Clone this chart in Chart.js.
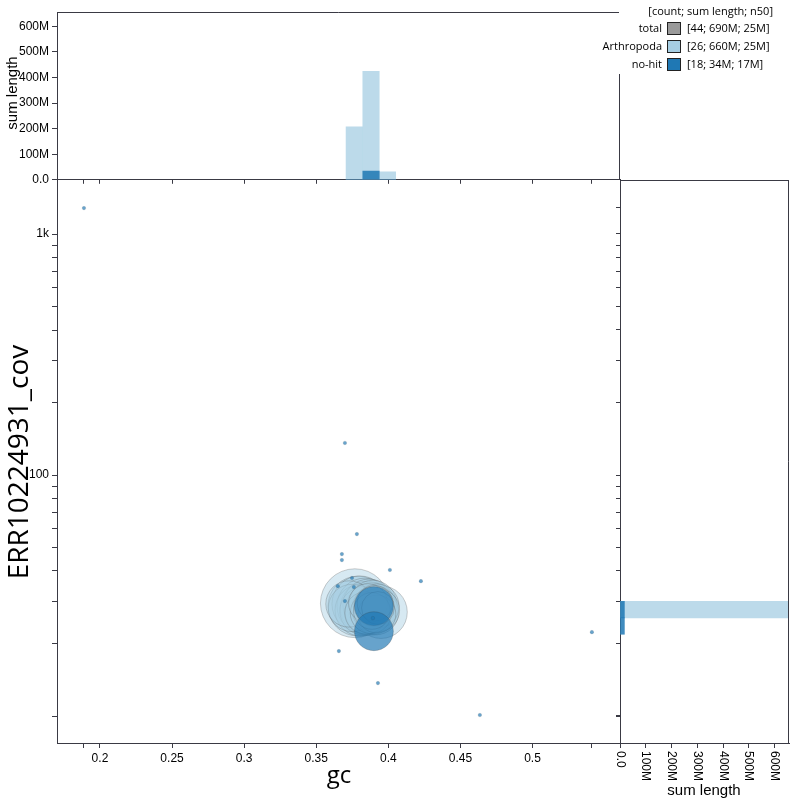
<!DOCTYPE html>
<html>
<head>
<meta charset="utf-8">
<script src="https://cdn.jsdelivr.net/npm/chart.js@4.4.1/dist/chart.umd.min.js"></script>
<style>
  html, body { margin: 0; padding: 0; background: #fff; }
  #wrap { position: relative; width: 800px; height: 800px; overflow: hidden; background: #fff; }
  canvas { position: absolute; }
  .lbl { position: absolute; white-space: nowrap; color: #000; transform: translate(-50%, -50%); }
  .rot { transform: translate(-50%, -50%) rotate(-90deg); }
  .big { font: 24px "Open Sans", sans-serif; }
  .ytitle { font: 28px "Open Sans", sans-serif; }
  .small { font: 15px "Liberation Sans", Arial, sans-serif; }
  #legend { position: absolute; left: 619px; top: 0; width: 181px; height: 74px; background: #fff;
            font: 11px "Open Sans", sans-serif; color: #000; }
  #legend div { position: absolute; white-space: nowrap; line-height: 14px; }
  #legend .sw { width: 14px; height: 13px; border: 1.5px solid #222; box-sizing: border-box; }
</style>
</head>
<body>
<div id="wrap">
  <canvas id="topHist" width="630" height="190" style="left:0px;top:0px"></canvas>
  <canvas id="blobPlot" width="630" height="630" style="left:0px;top:170px"></canvas>
  <canvas id="sideHist" width="190" height="630" style="left:610px;top:170px"></canvas>
  <div id="legend"></div>
  <div class="lbl rot ytitle" style="left:17px;top:462px">ERR10224931_cov</div>
  <div class="lbl big" style="left:339px;top:773px">gc</div>
  <div class="lbl rot small" style="left:11px;top:93px">sum length</div>
  <div class="lbl small" style="left:704px;top:789px">sum length</div>
</div>
<script>
// axes
const gcTicks = [0.2, 0.25, 0.3, 0.35, 0.4, 0.45, 0.5];
const gcExtent = [0.1889, 0.5412];
const gcRange = [0.1702, 0.5607];
const covTicks = [10, 20, 30, 40, 50, 60, 70, 80, 90, 100, 200, 300, 400, 500, 600, 700, 800, 900, 1000];
const covExtent = [10.1, 1283];
const covRange = [7.73, 1675];
const covLabels = { 100: '100', 1000: '1k' };
const lengthTicks = [0, 100e6, 200e6, 300e6, 400e6, 500e6, 600e6];
const lengthMax = 656e6;

// gc histogram (bin centres, sum length)
const gcBinCentres = [0.3764, 0.3880, 0.3994];
const gcArthropoda = [207e6, 424e6, 31e6];
const gcNoHit = [0, 34e6, 0];

// coverage histogram
const covBinCentres = [27.65, 23.63];
const covArthropoda = [655e6, 0];
const covNoHit = [17e6, 17e6];

// contigs: gc, coverage, length (Mb)
const arthGc = [0.3768, 0.3789, 0.3803, 0.3838, 0.3852, 0.3949, 0.3810, 0.3865, 0.3872, 0.3886, 0.3831, 0.3748, 0.3893,
                0.3727, 0.3907, 0.3914, 0.3921, 0.3928, 0.3845, 0.3879, 0.3900, 0.3859, 0.3921, 0.3886, 0.3907, 0.3928];
const arthCov = [29.4, 28.6, 29.2, 28.6, 28.1, 27.0, 27.5, 28.9, 27.5, 28.3, 27.3, 28.1, 29.2,
                 29.2, 27.8, 27.0, 28.6, 27.5, 26.8, 26.8, 28.6, 29.4, 26.5, 27.3, 29.4, 28.1];
const arthLen = [53, 40, 35, 35, 32, 31, 30, 30, 28, 27, 26, 25, 25, 24, 24, 23, 22, 21, 20, 19, 18, 17, 16, 15, 14, 12];

const noHitGc = [0.3900, 0.3900, 0.1889, 0.3699, 0.3782, 0.3678, 0.3678, 0.4011, 0.4226, 0.3748, 0.3761, 0.3650,
                 0.3699, 0.3893, 0.3657, 0.3928, 0.5412, 0.4635];
const noHitCov = [28.6, 22.5, 1283, 136, 56.9, 47.0, 44.4, 40.4, 36.3, 37.4, 34.3, 34.6, 30.0, 25.5, 18.6, 13.7, 22.3, 10.1];
const noHitLen = [16.9, 16.9, 0.05, 0.05, 0.05, 0.05, 0.05, 0.05, 0.05, 0.05, 0.05, 0.05, 0.05, 0.05, 0.05, 0.05, 0.05, 0.05];

const legendNames = ['total', 'Arthropoda', 'no-hit'];
const legendColours = ['#999999', '#a6cee3', '#1f78b4'];
const legendStats = ['[44; 690M; 25M]', '[26; 660M; 25M]', '[18; 34M; 17M]'];

const AXIS = '#3a3a44';
Chart.defaults.font.family = '"Liberation Sans", Arial, sans-serif';
Chart.defaults.font.size = 12;
Chart.defaults.color = '#000';
Chart.defaults.animation = false;
Chart.defaults.plugins.legend.display = false;
Chart.defaults.plugins.tooltip.enabled = false;

const radius = len => Math.max(1.8, 4.73 * Math.sqrt(len));
const fmtLength = v => v === 0 ? '0.0' : (v / 1e6) + 'M';
const setTicks = vals => scale => { scale.ticks = vals.slice().sort((a, b) => a - b).map(v => ({ value: v })); };
const noTicks = scale => { scale.ticks = []; };
const grid = len => ({ drawOnChartArea: false, drawTicks: true, tickLength: len, color: AXIS, offset: false });
const border = { display: true, color: AXIS, width: 1 };

// extra box edges that are not axes
const frame = sides => ({
  id: 'frame',
  afterDraw(chart) {
    const { ctx, chartArea: a } = chart;
    const l = Math.round(a.left) + 0.5, r = Math.round(a.right) - 0.5;
    const t = Math.round(a.top) + 0.5, b = Math.round(a.bottom) - 0.5;
    ctx.save();
    ctx.strokeStyle = AXIS;
    ctx.lineWidth = 1;
    ctx.beginPath();
    if (sides.includes('top')) { ctx.moveTo(l, t); ctx.lineTo(r + 0.5, t); }
    if (sides.includes('right')) { ctx.moveTo(r, t); ctx.lineTo(r, b + 0.5); }
    ctx.stroke();
    ctx.restore();
  }
});

// sideways labels under the coverage histogram
const rotatedLengthLabels = {
  id: 'rotatedLengthLabels',
  afterDraw(chart) {
    const { ctx, chartArea } = chart;
    const xs = chart.scales.x;
    ctx.save();
    ctx.font = '12px "Liberation Sans", Arial, sans-serif';
    ctx.fillStyle = '#000';
    ctx.textAlign = 'left';
    ctx.textBaseline = 'middle';
    lengthTicks.forEach(v => {
      ctx.save();
      ctx.translate(xs.getPixelForValue(v), chartArea.bottom + 8);
      ctx.rotate(Math.PI / 2);
      ctx.fillText(fmtLength(v), 0, 0);
      ctx.restore();
    });
    ctx.restore();
  }
};

// --- gc histogram (top) ---
new Chart(document.getElementById('topHist'), {
  type: 'bar',
  data: {
    datasets: [
      { label: 'Arthropoda', order: 2, xAxisID: 'bins', data: gcBinCentres.map((g, i) => ({ x: g, y: gcArthropoda[i] })), backgroundColor: 'rgba(166,206,227,0.75)' },
      { label: 'no-hit', order: 1, xAxisID: 'bins', data: gcBinCentres.map((g, i) => ({ x: g, y: gcNoHit[i] })), backgroundColor: 'rgba(31,120,180,0.85)' }
    ]
  },
  options: {
    responsive: false,
    layout: { autoPadding: false, padding: { top: 12, right: 10, left: 0, bottom: 0 } },
    datasets: { bar: { grouped: false, barPercentage: 1, categoryPercentage: 1, borderWidth: 0 } },
    scales: {
      bins: {
        type: 'linear', position: 'bottom', display: false, min: gcRange[0], max: gcRange[1],
        offset: false, afterBuildTicks: noTicks
      },
      x: {
        type: 'linear', position: 'bottom', min: gcRange[0], max: gcRange[1], offset: false,
        ticks: { display: false }, afterBuildTicks: setTicks(gcTicks.concat(gcExtent)),
        afterFit: s => { s.height = 10; }, grid: grid(4), border
      },
      y: {
        type: 'linear', min: 0, max: lengthMax,
        ticks: { callback: v => fmtLength(v), autoSkip: false, padding: 3 },
        afterBuildTicks: setTicks(lengthTicks),
        afterFit: s => { s.width = 57; }, grid: grid(5), border
      }
    }
  },
  plugins: [frame(['top', 'right'])]
});

// --- blob plot (main) ---
const bubbleData = (gc, cov, len) => gc.map((g, i) => ({ x: g, y: cov[i], r: radius(len[i]) }));
new Chart(document.getElementById('blobPlot'), {
  type: 'bubble',
  data: {
    datasets: [
      {
        label: 'Arthropoda', order: 2, data: bubbleData(arthGc, arthCov, arthLen),
        backgroundColor: 'rgba(166,206,227,0.45)', borderColor: 'rgba(80,80,80,0.28)', borderWidth: 1
      },
      {
        label: 'no-hit', order: 1, data: bubbleData(noHitGc, noHitCov, noHitLen),
        backgroundColor: 'rgba(31,120,180,0.68)', borderColor: 'rgba(60,60,60,0.3)',
        borderWidth: c => (c.raw && c.raw.r > 5 ? 0.8 : 0.4)
      }
    ]
  },
  options: {
    responsive: false,
    layout: { autoPadding: false, padding: { top: 10, right: 10, left: 0, bottom: 0 } },
    scales: {
      x: {
        type: 'linear', min: gcRange[0], max: gcRange[1],
        ticks: { callback: v => (gcTicks.includes(v) ? String(v) : ''), autoSkip: false, maxRotation: 0, padding: 3 },
        afterBuildTicks: setTicks(gcTicks.concat(gcExtent)),
        afterFit: s => { s.height = 57; }, grid: grid(5), border
      },
      y: {
        type: 'logarithmic', min: covRange[0], max: covRange[1],
        ticks: { callback: v => covLabels[v] || '', autoSkip: false, padding: 3 },
        afterBuildTicks: setTicks(covTicks),
        afterFit: s => { s.width = 57; }, grid: grid(5), border
      }
    }
  }
});

// --- coverage histogram (right) ---
new Chart(document.getElementById('sideHist'), {
  type: 'bar',
  data: {
    datasets: [
      { label: 'Arthropoda', order: 2, yAxisID: 'bins', data: covBinCentres.map((c, i) => ({ x: covArthropoda[i], y: c })), backgroundColor: 'rgba(166,206,227,0.75)' },
      { label: 'no-hit', order: 1, yAxisID: 'bins', data: covBinCentres.map((c, i) => ({ x: covNoHit[i], y: c })), backgroundColor: 'rgba(31,120,180,0.85)' }
    ]
  },
  options: {
    indexAxis: 'y',
    responsive: false,
    layout: { autoPadding: false, padding: { top: 10, right: 11, left: 0, bottom: 0 } },
    datasets: { bar: { grouped: false, barPercentage: 1, categoryPercentage: 1, borderWidth: 0 } },
    scales: {
      x: {
        type: 'linear', min: 0, max: lengthMax,
        ticks: { display: false }, afterBuildTicks: setTicks(lengthTicks),
        afterFit: s => { s.height = 57; }, grid: grid(5), border
      },
      bins: {
        type: 'logarithmic', position: 'left', display: false, min: covRange[0], max: covRange[1],
        offset: false, afterBuildTicks: noTicks
      },
      y: {
        type: 'logarithmic', position: 'left', min: covRange[0], max: covRange[1], offset: false,
        ticks: { display: false }, afterBuildTicks: setTicks(covTicks.concat(covExtent)),
        afterFit: s => { s.width = 10; }, grid: grid(4), border
      }
    }
  },
  plugins: [frame(['top', 'right']), rotatedLengthLabels]
});

// --- legend ---
const legend = document.getElementById('legend');
const addDiv = (cls, text, css) => {
  const d = document.createElement('div');
  if (cls) d.className = cls;
  if (text) d.textContent = text;
  Object.assign(d.style, css);
  legend.appendChild(d);
  return d;
};
addDiv('', '[count; sum length; n50]', { right: '27px', top: '4px' });
legendNames.forEach((name, i) => {
  const y = 21 + i * 18;
  addDiv('', name, { right: (181 - 43) + 'px', top: y + 'px' });
  addDiv('sw', '', { left: '48px', top: (y + 0.5) + 'px', background: legendColours[i] });
  addDiv('', legendStats[i], { left: '68px', top: y + 'px' });
});
</script>
</body>
</html>
